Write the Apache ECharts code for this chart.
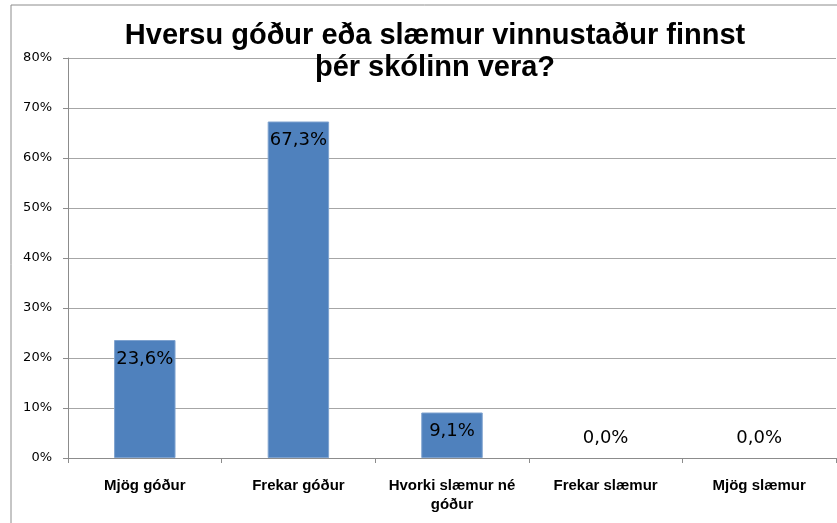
<!doctype html>
<html lang="is">

<head>
    <meta charset="UTF-8">
    <title>Vinnustaður</title>
    <style>
        html, body { margin: 0; padding: 0; background: #fff; }
    </style>
</head>

<body>
    <div id="main" style="width: 837px;height:523px;"></div>
    <script src="https://cdn.jsdelivr.net/npm/echarts@6/dist/echarts.min.js"></script>
    <script>
        // gögn lesin af myndinni
        var categories = ['Mjög góður', 'Frekar góður', 'Hvorki slæmur né\ngóður', 'Frekar slæmur', 'Mjög slæmur'];
        var values = [23.6, 67.3, 9.1, 0.0, 0.0];
        var yTicks = [0, 10, 20, 30, 40, 50, 60, 70, 80];

        var myChart = echarts.init(document.getElementById('main'));

        // núll-gildi fá merki ofan við ásinn og engan ramma
        var barData = values.map(function (v) {
            if (v === 0) {
                return {
                    value: v,
                    itemStyle: { borderWidth: 0 },
                    label: { position: 'top', distance: 11 }
                };
            }
            return v;
        });

        var option = {
            backgroundColor: '#ffffff',
            animation: false,
            title: {
                text: 'Hversu góður eða slæmur vinnustaður finnst\nþér skólinn vera?',
                left: 430,
                textAlign: 'center',
                top: 15,
                textStyle: {
                    fontFamily: 'Liberation Sans',
                    fontWeight: 'bold',
                    fontSize: 29,
                    lineHeight: 32,
                    color: '#000'
                }
            },
            graphic: [{
                type: 'rect',
                shape: { x: 11, y: 5, width: 860, height: 560 },
                style: { fill: 'none', stroke: '#8c8c8c', lineWidth: 1 },
                silent: true
            }],
            grid: {
                left: 68,
                right: 1,
                top: 58,
                bottom: 65
            },
            xAxis: {
                type: 'category',
                data: categories,
                axisLine: { lineStyle: { color: '#8c8c8c' } },
                axisTick: { show: true, length: 5, lineStyle: { color: '#8c8c8c' } },
                axisLabel: {
                    interval: 0,
                    margin: 18,
                    color: '#000',
                    fontFamily: 'Liberation Sans',
                    fontWeight: 'bold',
                    fontSize: 15,
                    lineHeight: 19
                }
            },
            yAxis: {
                type: 'value',
                min: yTicks[0],
                max: yTicks[yTicks.length - 1],
                interval: 10,
                axisLine: { show: true, lineStyle: { color: '#8c8c8c' } },
                axisTick: { show: true, length: 5, lineStyle: { color: '#8c8c8c' } },
                splitLine: { lineStyle: { color: '#a6a6a6' } },
                axisLabel: {
                    formatter: '{value}%',
                    margin: 16,
                    color: '#000',
                    fontFamily: 'DejaVu Sans',
                    fontSize: 13
                }
            },
            series: [{
                type: 'bar',
                data: barData,
                barWidth: '40%',
                itemStyle: {
                    color: '#4f81bd',
                    borderColor: '#7ea2cf',
                    borderWidth: 1
                },
                label: {
                    show: true,
                    position: 'insideTop',
                    distance: 10,
                    formatter: function (p) {
                        return p.value.toFixed(1).replace('.', ',') + '%';
                    },
                    color: '#000',
                    fontFamily: 'DejaVu Sans',
                    fontSize: 18
                }
            }]
        };

        myChart.setOption(option);
    </script>
</body>

</html>
